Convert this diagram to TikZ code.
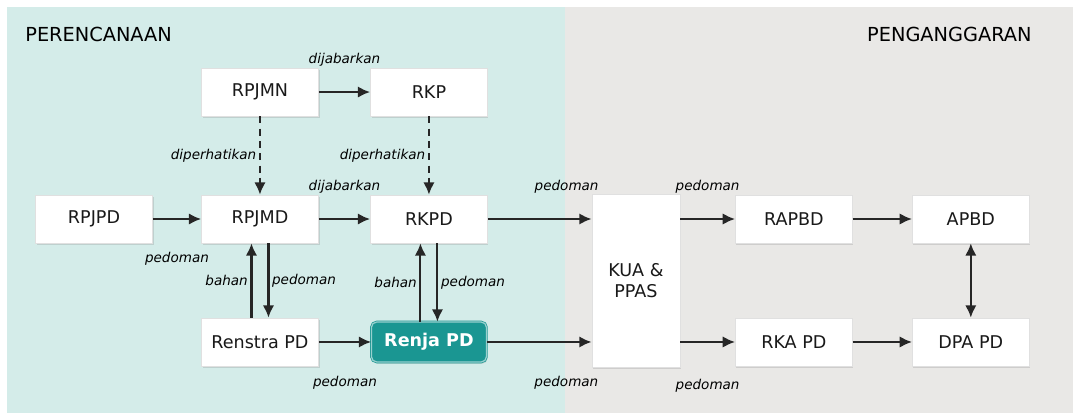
\documentclass[tikz,border=0pt]{standalone}
\usepackage{fontspec}
\setmainfont{DejaVu Sans}
\usetikzlibrary{positioning, arrows.meta, shadows}
\definecolor{planbg}{RGB}{212,236,233}
\definecolor{budgetbg}{RGB}{233,232,230}
\definecolor{renjateal}{RGB}{26,150,146}
\tikzset{
    node distance=2cm,
    box/.style={ % plain white document boxes
        draw=black!12, fill=white,
        minimum width=2.34cm, minimum height=0.96cm,
        font=\fontsize{10}{12}\selectfont, text=black!90,
        drop shadow={shadow xshift=0.6pt, shadow yshift=-1pt, opacity=0.25}
    },
    renjabox/.style={ % the highlighted box
        draw=renjateal, double=renjateal!45!white, double distance=0.7pt,
        fill=renjateal, rounded corners=3pt,
        minimum width=2.3cm, minimum height=0.8cm,
        font=\fontsize{10}{12}\selectfont\bfseries, text=white,
        drop shadow={shadow xshift=0.6pt, shadow yshift=-1pt, opacity=0.25}
    },
    kuabox/.style={box, minimum width=1.76cm, minimum height=3.46cm, align=center},
    title/.style={font=\fontsize{11}{13}\selectfont, text=black, inner sep=0pt},
    lbl/.style={font=\fontsize{7.7}{9}\selectfont\itshape, text=black, inner sep=1.5pt},
    guide/.style={dash pattern=on 4pt off 3pt},
    every edge/.style={ % connectors
        draw, line width=1.2pt, black!85,
        -{Latex[length=7pt,width=6.5pt]}
    },
}

\begin{document}
\begin{tikzpicture}[x=0.02cm, y=-0.02cm]
    % background panels
    \useasboundingbox (0,0) rectangle (1073,413);
    \fill[planbg]   (7,7)   rectangle (565,413);
    \fill[budgetbg] (565,7) rectangle (1073,413);
    \node[title, anchor=west] (plan)   at (25,34)   {PERENCANAAN};
    \node[title, anchor=east] (budget) at (1032,34) {PENGANGGARAN};

    \node[box] (rpjpd) at (94,219) {RPJPD};
    \node[box, node distance=3.32cm, right of=rpjpd]   (rpjmd)   {RPJMD};
    \node[box, node distance=3.38cm, right of=rpjmd]   (rkpd)    {RKPD};
    \node[box, node distance=2.54cm, above of=rpjmd]   (rpjmn)   {RPJMN};
    \node[box, node distance=2.54cm, above of=rkpd]    (rkp)     {RKP};
    \node[box, node distance=2.46cm, below of=rpjmd]   (renstra) {Renstra PD};
    \node[renjabox, node distance=2.46cm, below of=rkpd] (renja) {Renja PD};
    \node[kuabox, node distance=4.14cm, right of=rkpd, yshift=-1.23cm] (kua) {KUA \&\\PPAS};
    \node[box, node distance=7.3cm, right of=rkpd]     (rapbd)   {RAPBD};
    \node[box, node distance=3.54cm, right of=rapbd]   (apbd)    {APBD};
    \node[box, node distance=2.46cm, below of=rapbd]   (rkapd)   {RKA PD};
    \node[box, node distance=2.46cm, below of=apbd]    (dpapd)   {DPA PD};

    \draw   (rpjmn) edge             node[lbl, above=0.45cm] {dijabarkan}   (rkp)
            (rpjmn) edge[guide]      node[lbl, left]         {diperhatikan} (rpjmd)
            (rkp)   edge[guide]      node[lbl, left]         {diperhatikan} (rkpd)
            (rpjpd) edge             node[lbl, below=0.6cm]  {pedoman}      (rpjmd)
            (rpjmd) edge             node[lbl, above=0.45cm] {dijabarkan}   (rkpd)
            (renstra) edge           node[lbl, below=0.62cm] {pedoman}      (renja)
    ;
    % up and down pairs
    \draw   ([xshift=-0.17cm]renstra.north) edge node[lbl, left]  {bahan}   ([xshift=-0.17cm]rpjmd.south)
            ([xshift=0.17cm]rpjmd.south)    edge node[lbl, right] {pedoman} ([xshift=0.17cm]renstra.north)
            ([xshift=-0.17cm]renja.north)   edge node[lbl, left]  {bahan}   ([xshift=-0.17cm]rkpd.south)
            ([xshift=0.17cm]rkpd.south)     edge node[lbl, right] {pedoman} ([xshift=0.17cm]renja.north)
    ;
    % into and out of KUA & PPAS
    \draw   (rkpd)  edge node[lbl, above=0.45cm, pos=0.76] {pedoman} (rkpd -| kua.west)
            (renja) edge node[lbl, below=0.62cm, pos=0.76] {pedoman} (renja -| kua.west)
            (kua.east |- rapbd) edge node[lbl, above=0.45cm] {pedoman} (rapbd)
            (kua.east |- rkapd) edge node[lbl, below=0.68cm] {pedoman} (rkapd)
            (rapbd) edge (apbd)
            (rkapd) edge (dpapd)
            (apbd)  edge[{Latex[length=7pt,width=6.5pt]}-{Latex[length=7pt,width=6.5pt]}] (dpapd)
    ;
\end{tikzpicture}
\end{document}
